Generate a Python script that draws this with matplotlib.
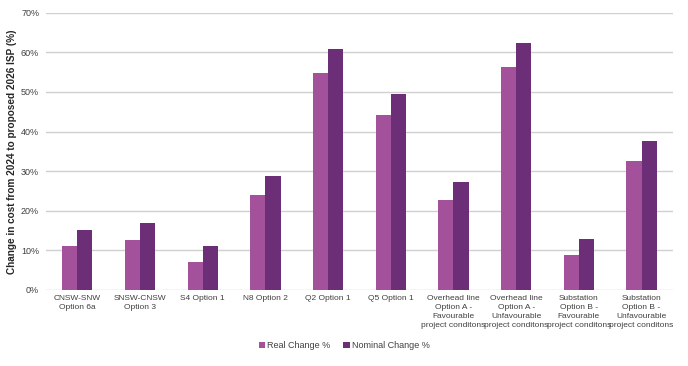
import numpy as np
import matplotlib.pyplot as plt

plt.rcParams['font.family'] = ['Liberation Sans', 'DejaVu Sans']

categories = [
    "CNSW-SNW\nOption 6a",
    "SNSW-CNSW\nOption 3",
    "S4 Option 1",
    "N8 Option 2",
    "Q2 Option 1",
    "Q5 Option 1",
    "Overhead line\nOption A -\nFavourable\nproject conditons",
    "Overhead line\nOption A -\nUnfavourable\nproject conditons",
    "Substation\nOption B -\nFavourable\nproject conditons",
    "Substation\nOption B -\nUnfavourable\nproject conditons",
]
real_change = [11.0, 12.7, 7.0, 24.0, 54.9, 44.2, 22.6, 56.4, 8.7, 32.6]
nominal_change = [15.2, 17.0, 11.1, 28.7, 60.8, 49.6, 27.3, 62.4, 12.9, 37.6]

c_real = "#A3519B"
c_nom = "#6B2E77"

fig = plt.figure(figsize=(6.88, 3.66), dpi=100)
ax = fig.add_axes([0.067, 0.208, 0.911, 0.757])

x = np.arange(len(categories))
w = 0.24
ax.bar(x - w / 2, real_change, w, color=c_real, label="Real Change %", zorder=3)
ax.bar(x + w / 2, nominal_change, w, color=c_nom, label="Nominal Change %", zorder=3)

ax.set_xlim(-0.5, len(categories) - 0.5)
ax.set_ylim(0, 70)
ax.set_yticks(np.arange(0, 71, 10))
ax.set_yticklabels([f"{v}%" for v in range(0, 71, 10)], fontsize=6.5, color="#404040")
ax.set_xticks(x)
ax.set_xticklabels(categories, fontsize=6, color="#404040", linespacing=1.4)
ax.tick_params(length=0, pad=5)
ax.tick_params(axis="x", pad=4)
ax.grid(axis="y", color="#D0D0D0", lw=1, zorder=0)
for s in ax.spines.values():
    s.set_visible(False)

ax.set_ylabel("Change in cost from 2024 to proposed 2026 ISP (%)",
              fontsize=7.2, fontweight="bold", color="#262626", labelpad=3)

fig.legend(loc="center", bbox_to_anchor=(0.5, 0.055), ncol=2, frameon=False,
           fontsize=6.5, handlelength=0.7, handleheight=0.7, handletextpad=0.2,
           columnspacing=1.5, labelcolor="#404040")

fig.savefig("out.png", dpi=100)
